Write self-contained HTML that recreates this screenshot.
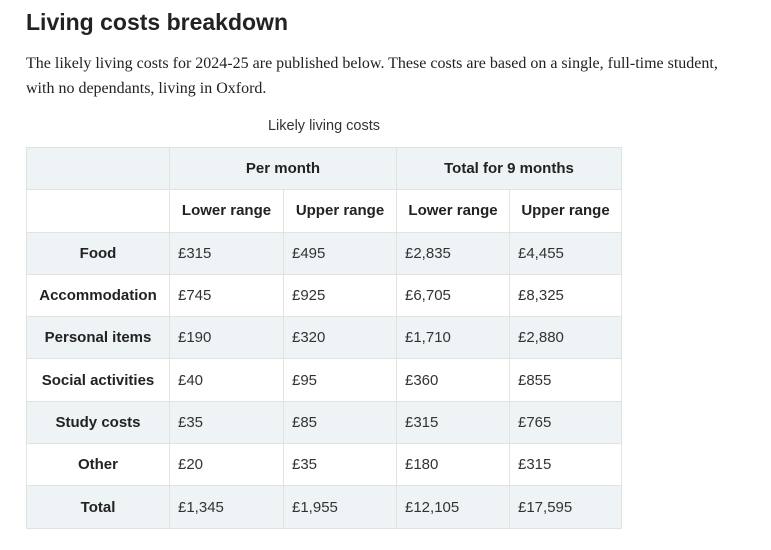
<!DOCTYPE html>
<html><head><meta charset="utf-8"><style>
body{margin:0;background:#fff;width:771px;height:550px;overflow:hidden;color:#222;}
h1{position:absolute;left:26px;top:9px;margin:0;font:bold 23px "Liberation Sans",sans-serif;color:#222;}
p{position:absolute;left:26px;top:51px;margin:0;width:700px;font:16px/25px "Liberation Serif",serif;color:#222;}
.cap{position:absolute;left:26px;width:596px;top:118px;text-align:center;font:14.5px "Liberation Sans",sans-serif;color:#333;}
table{position:absolute;left:26px;top:147px;border-collapse:collapse;font:15px "Liberation Sans",sans-serif;}
td,th{border:1.5px solid #e2e2de;height:41.3px;padding:0 8px;}
th{font-weight:bold;text-align:center;}
td{text-align:left;color:#333;}
tr.s{background:#eef3f6;}
</style></head><body>
<h1>Living costs breakdown</h1>
<p>The likely living costs for 2024-25 are published below. These costs are based on a single, full-time student, with no dependants, living in Oxford.</p>
<div class="cap">Likely living costs</div>
<table>
<colgroup><col style="width:143px"><col style="width:114px"><col style="width:113px"><col style="width:113px"><col style="width:112px"></colgroup>
<tr class="s"><th></th><th colspan="2">Per month</th><th colspan="2">Total for 9 months</th></tr>
<tr><th></th><th>Lower range</th><th>Upper range</th><th>Lower range</th><th>Upper range</th></tr>
<tr class="s"><th>Food</th><td>£315</td><td>£495</td><td>£2,835</td><td>£4,455</td></tr>
<tr><th>Accommodation</th><td>£745</td><td>£925</td><td>£6,705</td><td>£8,325</td></tr>
<tr class="s"><th>Personal items</th><td>£190</td><td>£320</td><td>£1,710</td><td>£2,880</td></tr>
<tr><th>Social activities</th><td>£40</td><td>£95</td><td>£360</td><td>£855</td></tr>
<tr class="s"><th>Study costs</th><td>£35</td><td>£85</td><td>£315</td><td>£765</td></tr>
<tr><th>Other</th><td>£20</td><td>£35</td><td>£180</td><td>£315</td></tr>
<tr class="s"><th>Total</th><td>£1,345</td><td>£1,955</td><td>£12,105</td><td>£17,595</td></tr>
</table>
</body></html>
